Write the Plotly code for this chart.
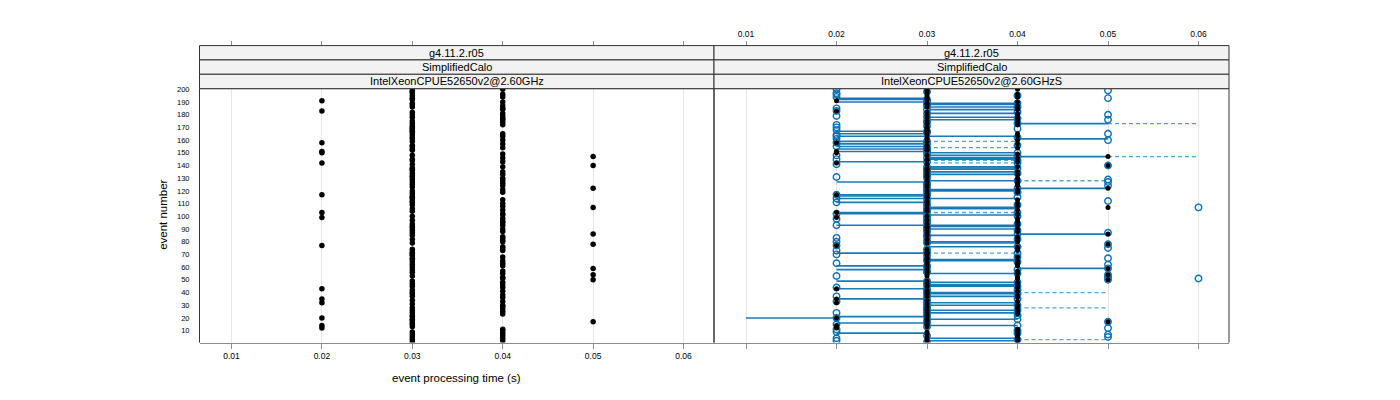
import plotly.graph_objects as go

# ---------------- data ----------------
events = list(range(1, 201))
time_ticks = [0.01, 0.02, 0.03, 0.04, 0.05, 0.06]
time_labels = ["0.01", "0.02", "0.03", "0.04", "0.05", "0.06"]
event_ticks = list(range(10, 201, 10))

# reference run (g4.11.2.r05, IntelXeonCPUE52650v2@2.60GHz): events per time bin, rest at 0.03 s
ref_02 = [12, 14, 20, 32, 35, 43, 77, 99, 103, 117, 142, 150, 151, 158, 183, 191]
ref_04 = [2, 4, 6, 8, 10, 11, 23, 25, 27, 29, 30, 33, 36, 38, 41, 44, 46, 48, 51, 52,
          55, 57, 61, 63, 65, 68, 73, 75, 76, 80, 81, 83, 84, 88, 90, 93, 95, 96, 98,
          101, 102, 105, 108, 110, 113, 119, 121, 124, 126, 128, 130, 133, 135, 139,
          143, 146, 149, 154, 157, 160, 163, 165, 172, 174, 176, 177, 179, 181, 184,
          185, 187, 190, 194, 196, 200]
ref_05 = [17, 50, 54, 59, 78, 86, 107, 122, 140, 147]

# comparison run (IntelXeonCPUE52650v2@2.60GHzS): events per time bin, rest at 0.03 s
new_02 = [200, 197, 196, 194, 185, 183, 179, 172, 170, 168, 164, 163, 161, 158, 155,
          148, 145, 141, 131, 117, 114, 111, 102, 98, 93, 83, 80, 77, 73, 70, 63, 53,
          44, 37, 33, 24, 20, 15, 11, 9, 4, 2]
new_04 = [195, 189, 186, 182, 177, 173, 169, 162, 156, 150, 147, 144, 142, 138, 134,
          128, 122, 119, 115, 109, 103, 100, 94, 89, 86, 82, 76, 71, 68, 64, 58, 55,
          48, 45, 42, 39, 35, 30, 26, 22, 19, 14, 10, 8, 3]
new_05 = [199, 193, 180, 176, 165, 160, 140, 129, 127, 124, 112, 87, 78, 75, 67, 62,
          59, 54, 52, 50, 17, 12, 7, 5]
new_06 = [107, 51]

# change segments (event numbers per time interval)
faster_01_02 = [20]
faster_02_03 = [193, 192, 190, 167, 165, 163, 159, 157, 155, 153, 151, 143, 127, 117,
                116, 114, 111, 103, 102, 93, 71, 61, 58, 49, 43, 35, 21, 16, 8]
faster_03_04 = [189, 188, 186, 184, 181, 178, 176, 163, 150, 148, 146, 145, 139, 138,
                137, 135, 133, 128, 121, 120, 114, 107, 106, 101, 93, 92, 90, 85, 80,
                79, 76, 66, 65, 55, 48, 46, 45, 40, 39, 37, 32, 30, 26, 24, 19, 14, 4, 2]
faster_04_05 = [173, 161, 147, 122, 86, 59]
slower_03_04 = [159, 154, 144, 142, 103, 71]
slower_04_05 = [128, 40, 28, 3]
slower_05_06 = [173, 147]


def build_times(bins, default):
    t = {e: default for e in events}
    for value, evs in bins.items():
        for e in evs:
            t[e] = value
    return [t[e] for e in events]


ref_time = build_times({0.02: ref_02, 0.04: ref_04, 0.05: ref_05}, 0.03)
new_time = build_times({0.02: new_02, 0.04: new_04, 0.05: new_05, 0.06: new_06}, 0.03)

faster = [(0.01, 0.02, faster_01_02), (0.02, 0.03, faster_02_03),
          (0.03, 0.04, faster_03_04), (0.04, 0.05, faster_04_05)]
slower = [(0.03, 0.04, slower_03_04), (0.04, 0.05, slower_04_05),
          (0.05, 0.06, slower_05_06)]


def seg_xy(groups):
    xs, ys = [], []
    for t0, t1, evs in groups:
        for e in evs:
            xs += [t0, t1, None]
            ys += [e, e, None]
    return xs, ys


# ---------------- figure ----------------
W, H = 1400, 400
FONT = "Liberation Sans, Arial, Helvetica, sans-serif"


def px(x):
    return x / W


def py(y):
    return 1 - y / H


fig = go.Figure()

# left panel
fig.add_trace(go.Scatter(x=ref_time, y=events, mode="markers", xaxis="x", yaxis="y",
                         marker=dict(symbol="circle", size=5.5, color="black"),
                         hoverinfo="skip"))

# right panel
sx, sy = seg_xy(slower)
fig.add_trace(go.Scatter(x=sx, y=sy, mode="lines", xaxis="x2", yaxis="y2",
                         line=dict(color="rgba(70,160,215,0.95)", width=1.3, dash="4px,3px"),
                         hoverinfo="skip"))
fx, fy = seg_xy(faster)
fig.add_trace(go.Scatter(x=fx, y=fy, mode="lines", xaxis="x2", yaxis="y2",
                         line=dict(color="rgba(0,108,176,0.9)", width=1.6),
                         hoverinfo="skip"))
fig.add_trace(go.Scatter(x=new_time, y=events, mode="markers", xaxis="x2", yaxis="y2",
                         marker=dict(symbol="circle-open", size=6.5, color="#0a70b4",
                                     line=dict(width=1.4, color="#0a70b4")),
                         hoverinfo="skip"))
fig.add_trace(go.Scatter(x=ref_time, y=events, mode="markers", xaxis="x2", yaxis="y2",
                         marker=dict(symbol="circle", size=5, color="black"),
                         hoverinfo="skip"))

# dummy traces to bind the top axes
fig.add_trace(go.Scatter(x=[None], y=[None], xaxis="x3", yaxis="y", hoverinfo="skip"))
fig.add_trace(go.Scatter(x=[None], y=[None], xaxis="x4", yaxis="y2", hoverinfo="skip"))

x_range = [0.00646, 0.06337]
y_range = [0.6, 200.5]
domL = [px(199.5), px(714)]
domR = [px(714), px(1229)]
domY = [py(342), py(85.5)]

common_x = dict(range=x_range, tickvals=time_ticks, ticktext=time_labels,
                ticks="outside", ticklen=5, tickcolor="#8c8c8c", tickwidth=1,
                zeroline=False, tickfont=dict(size=8.5, family=FONT, color="black"))

fig.update_layout(
    width=W, height=H, autosize=False,
    margin=dict(l=0, r=0, t=0, b=0),
    paper_bgcolor="white", plot_bgcolor="white",
    showlegend=False,
    font=dict(family=FONT, color="black"),
    xaxis=dict(domain=domL, anchor="y", showline=True, linecolor="#8c8c8c",
               showgrid=True, gridcolor="#e6e6e6", gridwidth=1, **common_x),
    xaxis2=dict(domain=domR, anchor="y2", showline=True, linecolor="#8c8c8c",
                showgrid=True, gridcolor="#e6e6e6", gridwidth=1,
                showticklabels=False, **common_x),
    xaxis3=dict(overlaying="x", anchor="free", position=py(42), side="top",
                showline=False, showgrid=False, showticklabels=False, **common_x),
    xaxis4=dict(overlaying="x2", anchor="free", position=py(42), side="top",
                showline=False, showgrid=False, showticklabels=True, **common_x),
    yaxis=dict(domain=domY, anchor="x", range=y_range, tickvals=event_ticks,
               ticks="", showline=False, showgrid=False, zeroline=False,
               ticklabelstandoff=9,
               tickfont=dict(size=7.5, family=FONT, color="black")),
    yaxis2=dict(domain=domY, anchor="x2", range=y_range, tickvals=event_ticks,
                ticks="", showline=False, showgrid=False, zeroline=False,
                showticklabels=False),
)

shapes = []
# panel borders (left, top, right)
for x0, x1 in [(199.5, 714), (714, 1229)]:
    for (a, b, c, d) in [(x0, 85.5, x0, 342), (x0, 85.5, x1, 85.5), (x1, 85.5, x1, 342)]:
        shapes.append(dict(type="line", xref="paper", yref="paper",
                           x0=px(a), y0=py(b), x1=px(c), y1=py(d),
                           line=dict(color="#333333", width=1)))

strip_texts = [
    ["g4.11.2.r05", "SimplifiedCalo", "IntelXeonCPUE52650v2@2.60GHz"],
    ["g4.11.2.r05", "SimplifiedCalo", "IntelXeonCPUE52650v2@2.60GHzS"],
]
strip_rows = [(42, 56.5), (56.5, 71), (71, 85.5)]
annotations = []
for (x0, x1), texts in zip([(199.5, 714), (714, 1229)], strip_texts):
    for (y0, y1), txt in zip(strip_rows, texts):
        shapes.append(dict(type="rect", xref="paper", yref="paper",
                           x0=px(x0), x1=px(x1), y0=py(y1), y1=py(y0),
                           fillcolor="#f2f2f2", line=dict(color="#333333", width=1),
                           layer="above"))
        annotations.append(dict(xref="paper", yref="paper", x=px((x0 + x1) / 2),
                                y=py((y0 + y1) / 2), text=txt, showarrow=False,
                                xanchor="center", yanchor="middle",
                                font=dict(size=11, family=FONT, color="black")))

annotations.append(dict(xref="paper", yref="paper", x=px(457), y=py(378),
                        text="event processing time (s)", showarrow=False,
                        xanchor="center", yanchor="middle",
                        font=dict(size=11.5, family=FONT, color="black")))
annotations.append(dict(xref="paper", yref="paper", x=px(163), y=py(213),
                        text="event number", showarrow=False, textangle=-90,
                        xanchor="center", yanchor="middle",
                        font=dict(size=11.5, family=FONT, color="black")))

fig.update_layout(shapes=shapes, annotations=annotations)

fig.write_html("out.html", config={"displayModeBar": False},
               post_script="document.body.style.margin='0px';document.body.style.overflow='hidden';")
